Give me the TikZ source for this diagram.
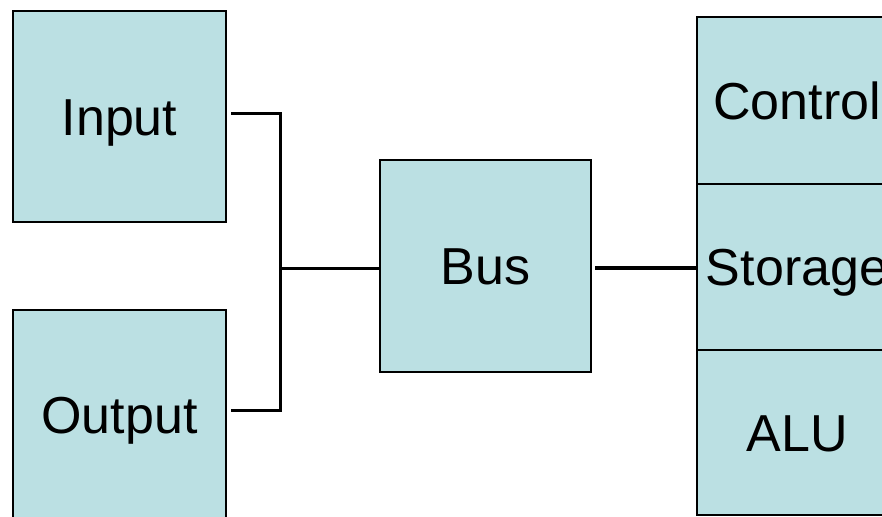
\documentclass[tikz,border=0pt]{standalone}
\usepackage{fontspec}
\setmainfont{Liberation Sans}
\begin{document}
\begin{tikzpicture}[x=1pt,y=-1pt,
  box/.style={draw=black,line width=2pt,fill=boxfill,inner sep=0pt,
    text height=37pt,text depth=0pt,
    font=\fontsize{52}{60}\selectfont},
  conn/.style={draw=black,line width=3pt}]
\definecolor{boxfill}{HTML}{BBE0E3}
\useasboundingbox (0,0) rectangle (882,516);
\clip (0,0) rectangle (882,516);
\node[box,minimum width=213pt,minimum height=211pt] (in) at (119.5,116.5) {Input};
\node[box,minimum width=213pt,minimum height=210pt] (out) at (119.5,415) {Output};
\node[box,minimum width=211pt,minimum height=212pt] (bus) at (485.5,266) {Bus};
\node[box,minimum width=200pt,minimum height=167pt,anchor=north west] (ctl) at (696,16) {Control};
\node[box,minimum width=200pt,minimum height=166pt,anchor=north west] (st) at (696,183) {Storage};
\node[box,minimum width=200pt,minimum height=165pt,anchor=north west] (alu) at (696,349) {ALU};
\coordinate (j) at (280,268);
\draw[conn] ([xshift=4pt,yshift=3pt]in.east) -| (j) |- ([xshift=4pt,yshift=5pt]out.east);
\draw[conn] (j) -- (bus.west|-j);
\draw[conn,line width=4pt] ([xshift=3pt]bus.east|-j) -- (st.west|-j);
\end{tikzpicture}
\end{document}
